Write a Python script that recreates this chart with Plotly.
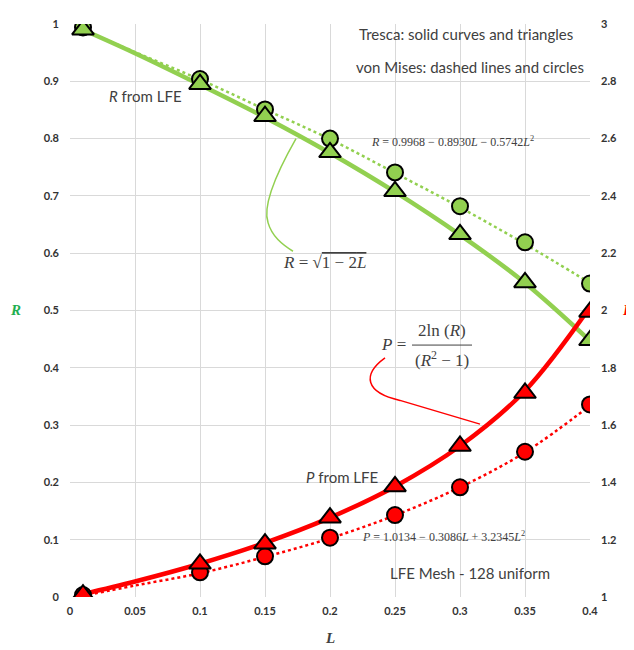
import plotly.graph_objects as go

# ---------------- data ----------------
L_pts = [0.01, 0.1, 0.15, 0.2, 0.25, 0.3, 0.35, 0.4]
R_tresca = [0.990, 0.895, 0.839, 0.776, 0.708, 0.633, 0.549, 0.448]
R_mises = [0.994, 0.904, 0.851, 0.800, 0.741, 0.682, 0.619, 0.547]
P_tresca = [1.008, 1.116, 1.186, 1.277, 1.386, 1.527, 1.712, 1.995]
P_mises = [1.007, 1.086, 1.142, 1.207, 1.286, 1.383, 1.507, 1.672]

L_curve = [0.01, 0.05, 0.1, 0.15, 0.2, 0.25, 0.3, 0.35, 0.4]
R_curve = [0.990, 0.949, 0.894, 0.837, 0.775, 0.707, 0.632, 0.548, 0.447]
R_fit = [0.990, 0.951, 0.903, 0.851, 0.799, 0.740, 0.680, 0.616, 0.548]
P_curve = [1.010, 1.054, 1.116, 1.189, 1.277, 1.386, 1.527, 1.720, 2.012]
P_fit = [1.004, 1.040, 1.083, 1.140, 1.205, 1.285, 1.383, 1.505, 1.668]

x_ticks = [0, 0.05, 0.1, 0.15, 0.2, 0.25, 0.3, 0.35, 0.4]
x_tick_text = ["0", "0.05", "0.1", "0.15", "0.2", "0.25", "0.3", "0.35", "0.4"]
yl_ticks = [0, 0.1, 0.2, 0.3, 0.4, 0.5, 0.6, 0.7, 0.8, 0.9, 1]
yl_tick_text = ["0", "0.1", "0.2", "0.3", "0.4", "0.5", "0.6", "0.7", "0.8", "0.9", "1"]
yr_ticks = [1, 1.2, 1.4, 1.6, 1.8, 2, 2.2, 2.4, 2.6, 2.8, 3]
yr_tick_text = ["1", "1.2", "1.4", "1.6", "1.8", "2", "2.2", "2.4", "2.6", "2.8", "3"]

GREEN = "#92D050"
RED = "#FF0000"
TXT = "#404040"

# page offset (body margin) and plot area in page pixels
OFF = 8
PL, PR, PT, PB = 70, 590, 17, 597
W, H = 634 - OFF, 650 - OFF


def px(x):
    return (x - PL) / (PR - PL)


def py(y):
    return (PB - y) / (PB - PT)


fig = go.Figure()

# green (R, left axis)
fig.add_trace(go.Scatter(x=L_curve, y=R_fit, mode="lines", line=dict(color=GREEN, width=2.5, dash="dot", shape="spline"),
                         showlegend=False, hoverinfo="skip"))
fig.add_trace(go.Scatter(x=L_curve, y=R_curve, mode="lines", line=dict(color=GREEN, width=4.5, shape="spline"),
                         showlegend=False, hoverinfo="skip"))
fig.add_trace(go.Scatter(x=L_pts, y=R_mises, mode="markers",
                         marker=dict(symbol="circle", size=16, color=GREEN, line=dict(color="black", width=2)),
                         showlegend=False))
fig.add_trace(go.Scatter(x=L_pts, y=R_tresca, mode="markers",
                         marker=dict(symbol="triangle-up", size=19, color=GREEN, line=dict(color="black", width=2)),
                         showlegend=False))

# red (P, right axis)
fig.add_trace(go.Scatter(x=L_curve, y=P_fit, mode="lines", yaxis="y2",
                         line=dict(color=RED, width=2.5, dash="dot", shape="spline"),
                         showlegend=False, hoverinfo="skip"))
fig.add_trace(go.Scatter(x=L_curve, y=P_curve, mode="lines", yaxis="y2",
                         line=dict(color=RED, width=4.5, shape="spline"),
                         showlegend=False, hoverinfo="skip"))
fig.add_trace(go.Scatter(x=L_pts, y=P_mises, mode="markers", yaxis="y2",
                         marker=dict(symbol="circle", size=16, color=RED, line=dict(color="black", width=2)),
                         showlegend=False))
fig.add_trace(go.Scatter(x=L_pts, y=P_tresca, mode="markers", yaxis="y2",
                         marker=dict(symbol="triangle-up", size=19, color=RED, line=dict(color="black", width=2)),
                         showlegend=False))

SANS = "Lato, Liberation Sans, sans-serif"
SERIF = "Liberation Serif, DejaVu Serif, serif"
tick_font = dict(family=SANS, size=11, color="#333333")


def bold(lst):
    return [f"<b>{t}</b>" for t in lst]


fig.update_layout(
    width=W, height=H, autosize=False,
    margin=dict(l=PL - OFF, r=634 - PR, t=PT - OFF, b=650 - PB),
    paper_bgcolor="white", plot_bgcolor="white",
    xaxis=dict(range=[0, 0.4], tickvals=x_ticks, ticktext=bold(x_tick_text), showgrid=True,
               gridcolor="#D9D9D9", gridwidth=1, zeroline=False, showline=False,
               tickfont=tick_font, ticks="", ticklabelstandoff=6),
    yaxis=dict(range=[0, 1], tickvals=yl_ticks, ticktext=bold(yl_tick_text), showgrid=True,
               gridcolor="#D9D9D9", gridwidth=1, zeroline=False, showline=False,
               tickfont=tick_font, ticks="", ticklabelstandoff=10),
    yaxis2=dict(range=[1, 3], tickvals=yr_ticks, ticktext=bold(yr_tick_text), overlaying="y", side="right",
                showgrid=False, zeroline=False, showline=False, tickfont=tick_font, ticks="",
                ticklabelstandoff=10),
)


def note(text, x, y, size=13, color=TXT, family=SANS, xanchor="center", **kw):
    fig.add_annotation(text=text, x=px(x), y=py(y), xref="paper", yref="paper", showarrow=False,
                       xanchor=xanchor, yanchor="middle", font=dict(family=family, size=size, color=color, **kw))


note("Tresca: solid curves and triangles", 466, 27, size=15)
note("von Mises: dashed lines and circles", 470, 61, size=15)
note("<i>R</i> from LFE", 145, 90, size=15)
note("<i>R</i> = 0.9968 − 0.8930<i>L</i> − 0.5742<i>L</i><sup>2</sup>", 452, 136, size=12, family=SERIF)
note("<i>R</i> = √<span style='text-decoration:overline'>1 − 2<i>L</i></span>", 324, 258, size=17, family=SERIF)
note("<i>P</i> =", 393, 341, size=17, family=SERIF)
note("2ln (<i>R</i>)", 442, 327, size=17, family=SERIF)
note("(<i>R</i><sup>2</sup> − 1)", 442, 356, size=17, family=SERIF)
note("<i>P</i> from LFE", 342, 476, size=15)
note("<i>P</i> = 1.0134 − 0.3086<i>L</i> + 3.2345<i>L</i><sup>2</sup>", 443, 536, size=12, family=SERIF)
note("LFE Mesh - 128 uniform", 470, 573, size=15)

# axis titles
note("<b><i>R</i></b>", 15, 306, size=15, color="#1FAF50", family=SERIF)
note("<b><i>L</i></b>", 330, 638, size=15, color=TXT, family=SERIF)
note("<b><i>P</i></b>", 621, 306, size=15, color=RED, family=SERIF, xanchor="left")

# fraction bar
fig.add_shape(type="line", xref="paper", yref="paper", x0=px(412), x1=px(472), y0=py(342), y1=py(342),
              line=dict(color=TXT, width=1))


def path(points_cmd):
    out = []
    for tok in points_cmd:
        if isinstance(tok, str):
            out.append(tok)
        else:
            out.append(f"{px(tok[0]):.4f},{py(tok[1]):.4f}")
    return " ".join(out)


# green connector
fig.add_shape(type="path", xref="paper", yref="paper",
              path=path(["M", (296, 133), "C", (278, 165), (262, 200), (268, 218), "C", (272, 232), (282, 240), (293, 247)]),
              line=dict(color=GREEN, width=1.5))
# red connector
fig.add_shape(type="path", xref="paper", yref="paper",
              path=path(["M", (385, 355), "C", (362, 372), (365, 390), (400, 398), "L", (480, 422)]),
              line=dict(color=RED, width=1.5))

fig.write_html("out.html")
